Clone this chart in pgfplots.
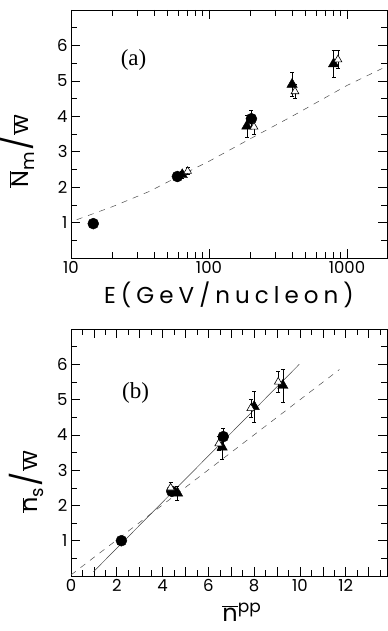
\documentclass[border=0pt]{standalone}
\usepackage{fontspec}
\setmainfont{Liberation Serif}
\newfontfamily\labfont{Poppins}
\newfontfamily\bigfont[LetterSpace=22]{Poppins}
\usepackage{pgfplots}
\pgfplotsset{compat=1.18}
\pgfplotsset{
  panel/.style={
    scale only axis, width=316bp,
    tick align=inside,
    xtick pos=both, ytick pos=both,
    ticklabel style={font=\labfont\fontsize{16.5bp}{16.5bp}\selectfont},
    /pgf/number format/assume math mode=true,
    major tick length=9bp, minor tick length=6bp,
    axis line style={line width=0.8bp},
    every tick/.style={black, line width=0.6bp},
    every minor tick/.style={black, line width=0.5bp},
    ymin=0, ymax=7,
    ytick={0,...,7}, yticklabels={,1,2,3,4,5,6,},
    minor ytick={0.5,1.5,...,6.5},
    clip=false,
  },
  fc/.style={only marks, mark=*, mark size=5.5bp, black,
    error bars/.cd, y dir=both, y explicit,
    error bar style={line width=0.5bp},
    error mark options={rotate=90, mark size=2bp, line width=0.5bp}},
  ft/.style={only marks, mark=triangle*, mark size=6bp, black,
    error bars/.cd, y dir=both, y explicit,
    error bar style={line width=0.5bp},
    error mark options={rotate=90, mark size=2bp, line width=0.5bp}},
  ot/.style={only marks, mark=triangle*, mark size=4.5bp, black,
    mark options={fill=white, line width=0.6bp},
    error bars/.cd, y dir=both, y explicit,
    error bar style={line width=0.5bp},
    error mark options={rotate=90, mark size=2bp, line width=0.5bp}},
}
\begin{document}
\begin{tikzpicture}
\path[use as bounding box] (0,0) rectangle (388bp,631bp);
% ---------------- panel (a)
\begin{axis}[panel,
  at={(71bp,373bp)}, anchor=south west, height=248bp,
  xmode=log, xmin=10, xmax=1950,
  xtick={10,100,1000}, xticklabels={10,100,1000},
  minor xtick={20,30,40,50,60,70,80,90,200,300,400,500,600,700,800,900},
  xlabel={\bigfont\fontsize{23bp}{23bp}\selectfont E(GeV/nucleon)},
  xlabel style={at={(axis description cs:0.5,-0.15)}, anchor=center},
  ylabel={\labfont\fontsize{24bp}{24bp}\selectfont $\overline{\mbox{N}}$\raisebox{-6bp}{\fontsize{18bp}{18bp}\selectfont m}\kern2bp{\fontsize{30bp}{30bp}\selectfont /}\kern1bp$\overline{\mbox{w}}$},
  ylabel style={at={(axis description cs:-0.17,0.43)}, anchor=center},
]
\addplot[black!70, line width=0.5bp, dash pattern=on 6bp off 6bp] coordinates {
  (11,1.08) (20,1.45) (37,1.88) (60,2.3) (100,2.73) (200,3.37) (400,4.0) (1000,4.87) (1800,5.35)};
\addplot[fc] table[y error=e] {
x y e
14.5 0.97 0
59 2.30 0
203 3.93 0.25
};
\addplot[ft] table[y error=e] {
x y e
64 2.35 0.1
188 3.72 0.3
400 4.90 0.33
800 5.48 0.37
};
\addplot[ot] table[y error=e] {
x y e
70 2.45 0.1
212 3.70 0.2
420 4.70 0.2
860 5.60 0.25
};
\node[font=\fontsize{23bp}{23bp}\selectfont] at (axis cs:28.4,5.6) {(a)};
\end{axis}
% ---------------- panel (b)
\begin{axis}[panel,
  at={(71bp,55bp)}, anchor=south west, height=247bp,
  xmin=0, xmax=13.8,
  xtick={0,1,...,13}, xticklabels={0,,2,,4,,6,,8,,10,,12,},
  minor xtick={0.5,1.5,...,13.5},
  xlabel={\labfont\fontsize{24bp}{24bp}\selectfont $\overline{\mbox{n}}$\raisebox{9bp}{\fontsize{17bp}{17bp}\selectfont pp}},
  xlabel style={at={(axis description cs:0.54,-0.145)}, anchor=center},
  ylabel={\labfont\fontsize{24bp}{24bp}\selectfont $\overline{\mbox{n}}$\raisebox{-6bp}{\fontsize{18bp}{18bp}\selectfont s}\kern2bp{\fontsize{30bp}{30bp}\selectfont /}\kern1bp$\overline{\mbox{w}}$},
  ylabel style={at={(axis description cs:-0.14,0.38)}, anchor=center},
]
\addplot[black!75, line width=0.5bp] coordinates {(0.98,0.12) (9.97,6.0)};
\addplot[black!70, line width=0.5bp, dash pattern=on 6bp off 6bp] coordinates {(0,0.03) (11.72,5.85)};
\addplot[fc] table[y error=e] {
x y e
2.2 1.00 0
4.4 2.40 0
6.65 3.95 0.25
};
\addplot[ft] table[y error=e] {
x y e
4.65 2.35 0.2
6.6 3.65 0.35
8.0 4.80 0.45
9.25 5.40 0.47
};
\addplot[ot] table[y error=e] {
x y e
4.35 2.50 0.15
6.45 3.75 0.2
7.85 4.75 0.25
9.05 5.50 0.3
};
\node[font=\fontsize{23bp}{23bp}\selectfont] at (axis cs:2.82,5.18) {(b)};
\end{axis}
\end{tikzpicture}
\end{document}
